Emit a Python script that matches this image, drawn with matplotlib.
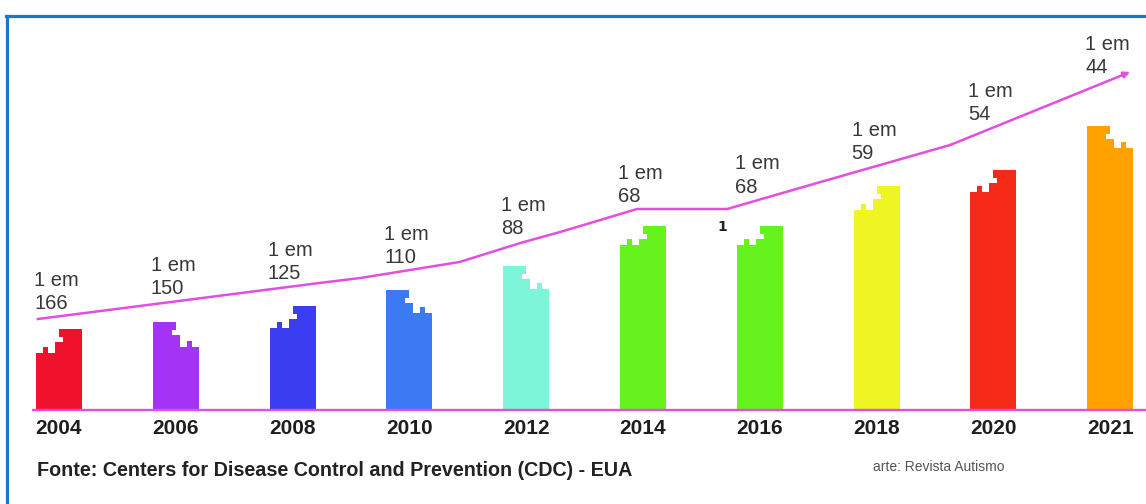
import numpy as np
import matplotlib
matplotlib.use("Agg")
import matplotlib.pyplot as plt
from matplotlib.patches import Polygon
from matplotlib.lines import Line2D

# data
years = ["2004", "2006", "2008", "2010", "2012", "2014", "2016", "2018", "2020", "2021"]
ratio = [166, 150, 125, 110, 88, 68, 68, 59, 54, 44]
# puzzle bar heights (left half, right half), pixel-like units above baseline
bar_left = [57, 88, 82, 120, 144, 165, 165, 200, 218, 284]
bar_right = [81, 63, 104, 97, 121, 184, 184, 224, 240, 262]
bar_colors = ["#f0122c", "#a533f5", "#3b3ef0", "#3b7af2", "#7cf5d8",
              "#66f21c", "#66f21c", "#eef522", "#f52a16", "#ffa200"]
# trend line anchors (category position, height)
trend_x = [-0.18, 2.23, 2.58, 3.43, 3.95, 4.29, 4.95, 5.72, 6.52, 7.63, 9.17]
trend_h = [91, 127, 132, 148, 167, 178, 201, 201, 228, 265, 338]

W_PX, H_PX = 1146, 504
PX_PER_CAT = 116.8
X0_PX = 59
BASE_PX = 410
MAGENTA = "#e24fe0"
BAR_W = 46  # px


def puzzle_poly(xc, h_l, h_r):
    """Stepped puzzle-piece outline for one bar, in data coords."""
    lo, hi = min(h_l, h_r), max(h_l, h_r)
    pts = [(0, 0), (0, lo), (7, lo), (7, lo + 6), (12, lo + 6), (12, lo),
           (19, lo), (19, hi - 13), (27, hi - 13), (27, hi - 8), (23, hi - 8),
           (23, hi), (BAR_W, hi), (BAR_W, 0)]
    if h_l > h_r:
        pts = [(BAR_W - x, y) for x, y in pts]
    return [(xc + (x - BAR_W / 2) / PX_PER_CAT, y) for x, y in pts]


fig = plt.figure(figsize=(W_PX / 100, H_PX / 100), dpi=100)
ax = fig.add_axes([0, 0, 1, 1])
ax.set_xlim(-X0_PX / PX_PER_CAT, (W_PX - X0_PX) / PX_PER_CAT)
ax.set_ylim(-(H_PX - BASE_PX), BASE_PX)
ax.axis("off")

xs = np.arange(len(years))

for i, (hl, hr, c) in enumerate(zip(bar_left, bar_right, bar_colors)):
    ax.add_patch(Polygon(puzzle_poly(xs[i], hl, hr), closed=True,
                         facecolor=c, edgecolor="none", zorder=2))

# baseline
ax.plot([(32 - X0_PX) / PX_PER_CAT, ax.get_xlim()[1]], [0, 0],
        color=MAGENTA, lw=1.7, zorder=3, solid_capstyle="butt")

# trend line with arrow
ax.plot(trend_x[:-1], trend_h[:-1], color=MAGENTA, lw=1.8, zorder=3)
ax.annotate("", xy=(trend_x[-1], trend_h[-1]), xytext=(trend_x[-2], trend_h[-2]),
            arrowprops=dict(arrowstyle="-|>", color=MAGENTA, lw=1.8,
                            mutation_scale=9, shrinkA=0, shrinkB=0), zorder=3)

# "1 em N" labels
label_h = np.interp(xs, trend_x, trend_h) + 3
for i, n in enumerate(ratio):
    ax.text(xs[i] - (BAR_W / 2 + 2) / PX_PER_CAT, label_h[i], f"1 em\n{n}",
            ha="left", va="bottom", fontsize=14.5, family="Liberation Sans",
            color="#383838", linespacing=1.28, zorder=4)

# stray mark near 2016
ax.text(5.68, 183, "1", ha="center", va="center", fontsize=10,
        fontweight="bold", color="#222222", family="DejaVu Sans")

# year labels
for i, y in enumerate(years):
    ax.text(xs[i], -19, y, ha="center", va="center", fontsize=15,
            fontweight="bold", family="Liberation Sans", color="#1e1e1e")

fig.text(37 / W_PX, 1 - 470 / H_PX,
         "Fonte: Centers for Disease Control and Prevention (CDC) - EUA",
         ha="left", va="center", fontsize=14.2, fontweight="bold",
         family="Liberation Sans", color="#222222")
fig.text(873 / W_PX, 1 - 467 / H_PX, "arte: Revista Autismo",
         ha="left", va="center", fontsize=10, family="Liberation Sans",
         color="#555555")

# blue frame (left and top edges)
frame_c = "#1b75c9"
fig.add_artist(Line2D([6.5 / W_PX, 6.5 / W_PX], [0, 1 - 15.5 / H_PX],
                      transform=fig.transFigure, color=frame_c, lw=2.3))
fig.add_artist(Line2D([5.5 / W_PX, 1], [1 - 15.5 / H_PX, 1 - 15.5 / H_PX],
                      transform=fig.transFigure, color=frame_c, lw=2.3))

fig.savefig("out.png", dpi=100)
plt.close(fig)
